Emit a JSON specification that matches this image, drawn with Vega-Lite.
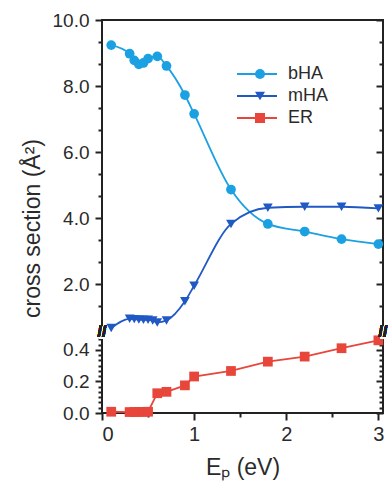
{
  "$schema": "https://vega.github.io/schema/vega-lite/v6.json",
  "autosize": "none",
  "padding": {"left": 102, "top": 20, "right": 5, "bottom": 74},
  "width": 281,
  "height": 393,
  "background": "white",
  "config": {
    "view": {"stroke": "#222", "strokeWidth": 2},
    "font": "Liberation Sans",
    "axis": {"labelFont": "Liberation Sans", "titleFont": "Liberation Sans", "labelColor": "#2a2a2a", "titleColor": "#2a2a2a", "tickColor": "#222", "tickWidth": 2, "domain": false, "grid": false, "titleFontWeight": "normal"}
  },
  "data": {"values": [
    {"E": 0.1, "cs": 9.24, "series": "bHA"},
    {"E": 0.3, "cs": 8.98, "series": "bHA"},
    {"E": 0.35, "cs": 8.78, "series": "bHA"},
    {"E": 0.4, "cs": 8.66, "series": "bHA"},
    {"E": 0.45, "cs": 8.7, "series": "bHA"},
    {"E": 0.5, "cs": 8.83, "series": "bHA"},
    {"E": 0.6, "cs": 8.9, "series": "bHA"},
    {"E": 0.7, "cs": 8.61, "series": "bHA"},
    {"E": 0.9, "cs": 7.73, "series": "bHA"},
    {"E": 1.0, "cs": 7.16, "series": "bHA"},
    {"E": 1.4, "cs": 4.87, "series": "bHA"},
    {"E": 1.8, "cs": 3.83, "series": "bHA"},
    {"E": 2.2, "cs": 3.6, "series": "bHA"},
    {"E": 2.6, "cs": 3.37, "series": "bHA"},
    {"E": 3.0, "cs": 3.22, "series": "bHA"},
    {"E": 0.1, "cs": 0.68, "series": "mHA"},
    {"E": 0.3, "cs": 0.96, "series": "mHA"},
    {"E": 0.35, "cs": 0.95, "series": "mHA"},
    {"E": 0.4, "cs": 0.94, "series": "mHA"},
    {"E": 0.45, "cs": 0.93, "series": "mHA"},
    {"E": 0.5, "cs": 0.93, "series": "mHA"},
    {"E": 0.55, "cs": 0.91, "series": "mHA"},
    {"E": 0.6, "cs": 0.85, "series": "mHA"},
    {"E": 0.7, "cs": 0.91, "series": "mHA"},
    {"E": 0.9, "cs": 1.49, "series": "mHA"},
    {"E": 1.0, "cs": 1.96, "series": "mHA"},
    {"E": 1.4, "cs": 3.83, "series": "mHA"},
    {"E": 1.8, "cs": 4.32, "series": "mHA"},
    {"E": 2.2, "cs": 4.35, "series": "mHA"},
    {"E": 2.6, "cs": 4.35, "series": "mHA"},
    {"E": 3.0, "cs": 4.3, "series": "mHA"},
    {"E": 0.1, "cs": 0.008, "series": "ER"},
    {"E": 0.3, "cs": 0.006, "series": "ER"},
    {"E": 0.35, "cs": 0.006, "series": "ER"},
    {"E": 0.4, "cs": 0.007, "series": "ER"},
    {"E": 0.45, "cs": 0.007, "series": "ER"},
    {"E": 0.5, "cs": 0.008, "series": "ER"},
    {"E": 0.6, "cs": 0.125, "series": "ER"},
    {"E": 0.7, "cs": 0.134, "series": "ER"},
    {"E": 0.9, "cs": 0.175, "series": "ER"},
    {"E": 1.0, "cs": 0.231, "series": "ER"},
    {"E": 1.4, "cs": 0.266, "series": "ER"},
    {"E": 1.8, "cs": 0.325, "series": "ER"},
    {"E": 2.2, "cs": 0.357, "series": "ER"},
    {"E": 2.6, "cs": 0.41, "series": "ER"},
    {"E": 3.0, "cs": 0.46, "series": "ER"}
  ]},
  "resolve": {"axis": {"y": "independent"}},
  "layer": [
    {
      "transform": [{"filter": "datum.series != 'ER'"}],
      "mark": {"type": "line", "interpolate": "monotone", "strokeWidth": 1.8},
      "encoding": {
        "x": {"field": "E", "type": "quantitative", "scale": {"domain": [0, 3.05], "nice": false, "zero": false},
          "axis": {"values": [0, 0.5, 1, 1.5, 2, 2.5, 3], "labelExpr": "datum.value % 1 == 0 ? format(datum.value, 'd') : ''",
            "tickSize": {"condition": {"test": "datum.value % 1 == 0", "value": 7}, "value": 4},
            "labelFontSize": 20, "labelPadding": 4, "title": "Eₚ (eV)", "titleFontSize": 23, "titlePadding": 12}},
        "y": {"field": "cs", "type": "quantitative", "scale": {"domain": [0, 0.5, 10], "range": [393, 314, 0], "nice": false, "zero": false},
          "axis": {"orient": "left",
            "values": [0, 0.0333, 0.0667, 0.1, 0.1333, 0.1667, 0.2, 0.2333, 0.2667, 0.3, 0.3333, 0.3667, 0.4, 0.4333, 0.4667, 1.3333, 2, 2.6667, 3.3333, 4, 4.6667, 5.3333, 6, 6.6667, 7.3333, 8, 8.6667, 9.3333, 10],
            "labelExpr": "indexof([0, 0.2, 0.4, 2, 4, 6, 8, 10], datum.value) >= 0 ? format(datum.value, '.1f') : ''",
            "tickSize": {"condition": {"test": "indexof([0, 0.2, 0.4, 2, 4, 6, 8, 10], datum.value) >= 0", "value": 7}, "value": 4},
            "labelFontSize": 19, "labelPadding": 6, "title": "cross section (Å²)", "titleFontSize": 23, "titlePadding": 8, "titleY": 208}},
        "stroke": {"field": "series", "type": "nominal",
          "scale": {"domain": ["bHA", "mHA", "ER"], "range": ["#1ba1e2", "#2058c4", "#e8463b"]},
          "legend": {"orient": "none", "legendX": 134, "legendY": 45, "title": null, "symbolType": "stroke", "symbolSize": 1600, "symbolStrokeWidth": 2, "clipHeight": 18, "rowPadding": 4, "labelFontSize": 18, "labelFont": "Liberation Sans", "labelOffset": 10, "labelColor": "#2a2a2a"}}
      }
    },
    {
      "transform": [{"filter": "datum.series == 'ER'"}],
      "mark": {"type": "line", "interpolate": "linear", "strokeWidth": 1.8},
      "encoding": {
        "x": {"field": "E", "type": "quantitative"},
        "y": {"field": "cs", "type": "quantitative",
          "axis": {"orient": "right", "labels": false, "title": null,
            "values": [0, 0.0333, 0.0667, 0.1, 0.1333, 0.1667, 0.2, 0.2333, 0.2667, 0.3, 0.3333, 0.3667, 0.4, 0.4333, 0.4667, 1.3333, 2, 2.6667, 3.3333, 4, 4.6667, 5.3333, 6, 6.6667, 7.3333, 8, 8.6667, 9.3333, 10],
            "tickSize": {"condition": {"test": "indexof([0, 0.2, 0.4, 2, 4, 6, 8, 10], datum.value) >= 0", "value": -7}, "value": -4}}},
        "stroke": {"field": "series", "type": "nominal",
          "scale": {"domain": ["bHA", "mHA", "ER"], "range": ["#1ba1e2", "#2058c4", "#e8463b"]},
          "legend": {"orient": "none", "legendX": 134, "legendY": 45, "title": null, "symbolType": "stroke", "symbolSize": 1600, "symbolStrokeWidth": 2, "clipHeight": 18, "rowPadding": 4, "labelFontSize": 18, "labelFont": "Liberation Sans", "labelOffset": 10, "labelColor": "#2a2a2a"}}
      }
    },
    {
      "mark": {"type": "point", "filled": true, "opacity": 1, "size": 95},
      "encoding": {
        "x": {"field": "E", "type": "quantitative"},
        "y": {"field": "cs", "type": "quantitative", "axis": null},
        "fill": {"field": "series", "type": "nominal", "sort": ["bHA", "mHA", "ER"],
          "scale": {"range": ["#1ba1e2", "#2058c4", "#e8463b"]},
          "legend": null},
        "shape": {"field": "series", "type": "nominal", "sort": ["bHA", "mHA", "ER"],
          "scale": {"range": ["circle", "triangle-down", "square"]},
          "legend": {"orient": "none", "legendX": 149, "legendY": 45, "title": null, "symbolSize": 100, "symbolOpacity": 1, "symbolStrokeWidth": 0, "clipHeight": 18, "rowPadding": 4, "labelFontSize": 18, "labelExpr": "''", "zindex": 2,
            "symbolFillColor": {"expr": "datum.value === 'bHA' ? '#1ba1e2' : (datum.value === 'mHA' ? '#2058c4' : '#e8463b')"}}}
      }
    },
    {
      "mark": {"type": "rule", "color": "white", "strokeWidth": 6},
      "encoding": {
        "x": {"datum": 0, "type": "quantitative"},
        "y": {"datum": 0.47, "type": "quantitative", "axis": null},
        "y2": {"datum": 0.72}
      }
    },
    {
      "mark": {"type": "rule", "color": "white", "strokeWidth": 6},
      "encoding": {
        "x": {"datum": 3.05, "type": "quantitative"},
        "y": {"datum": 0.47, "type": "quantitative", "axis": null},
        "y2": {"datum": 0.72}
      }
    },
    {
      "mark": {"type": "text", "text": "//", "fontSize": 16, "fontWeight": "bold", "color": "#222", "font": "Liberation Sans"},
      "encoding": {
        "x": {"datum": 0, "type": "quantitative"},
        "y": {"datum": 0.56, "type": "quantitative", "axis": null}
      }
    },
    {
      "mark": {"type": "text", "text": "//", "fontSize": 16, "fontWeight": "bold", "color": "#222", "font": "Liberation Sans"},
      "encoding": {
        "x": {"datum": 3.05, "type": "quantitative"},
        "y": {"datum": 0.56, "type": "quantitative", "axis": null}
      }
    }
  ]
}
